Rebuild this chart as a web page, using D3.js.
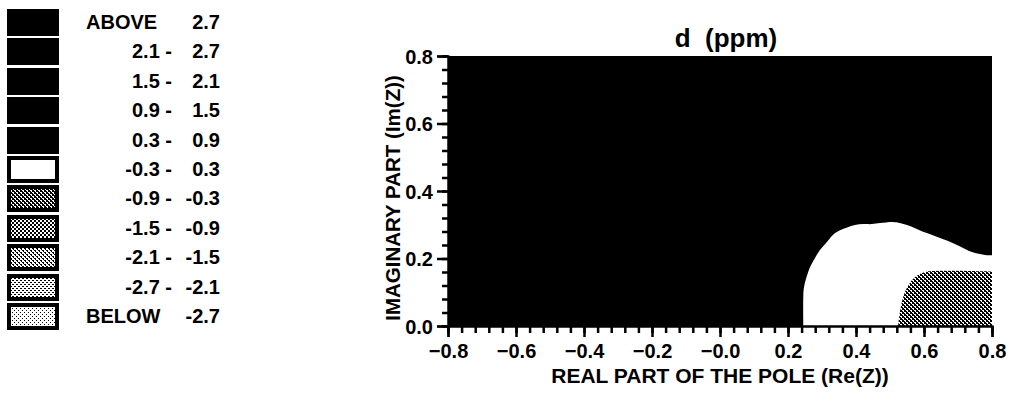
<!DOCTYPE html>
<html>
<head>
<meta charset="utf-8">
<script src="https://cdn.jsdelivr.net/npm/d3@7"></script>
<style>
  html, body { margin: 0; padding: 0; background: #fff; }
  svg { display: block; }
  text { font-family: "Liberation Sans", Arial, Helvetica, sans-serif; font-weight: bold; fill: #000; }
</style>
</head>
<body>
<svg id="chart" width="1009" height="393"></svg>
<script>
// ---- data -------------------------------------------------------------
const chartTitle = "d  (ppm)";
const xTitle = "REAL PART OF THE POLE (Re(Z))";
const yTitle = "IMAGINARY PART (Im(Z))";

// contour bands, from highest to lowest
const bandFrom = ["ABOVE", "2.1", "1.5", "0.9", "0.3", "-0.3", "-0.9", "-1.5", "-2.1", "-2.7", "BELOW"];
const bandTo   = ["2.7",   "2.7", "2.1", "1.5", "0.9", "0.3",  "-0.3", "-0.9", "-1.5", "-2.1", "-2.7"];

const xTicks = [-0.8, -0.6, -0.4, -0.2, 0.0, 0.2, 0.4, 0.6, 0.8];
const xTickLabels = ["-0.8", "-0.6", "-0.4", "-0.2", "-0.0", "0.2", "0.4", "0.6", "0.8"];
const yTicks = [0.0, 0.2, 0.4, 0.6, 0.8];
const yTickLabels = ["0.0", "0.2", "0.4", "0.6", "0.8"];

// background band covering the whole plane (0.3 - 0.9)
const backgroundBand = 4;

// outline of the -0.3 .. 0.3 region (Re, Im)
const zeroBand = 5;
const zeroBandRe = [0.245, 0.245, 0.247, 0.253, 0.265, 0.279, 0.294, 0.312, 0.332, 0.353, 0.374, 0.397, 0.421,
                    0.447, 0.471, 0.509, 0.529, 0.550, 0.574, 0.597, 0.624, 0.647, 0.671, 0.697, 0.721,
                    0.741, 0.765, 0.785, 0.800];
const zeroBandIm = [0.000, 0.090, 0.115, 0.140, 0.175, 0.201, 0.225, 0.246, 0.270, 0.284, 0.292, 0.299, 0.302,
                    0.302, 0.305, 0.308, 0.305, 0.299, 0.290, 0.279, 0.270, 0.261, 0.252, 0.240, 0.228,
                    0.219, 0.213, 0.210, 0.210];

// outline of the -0.9 .. -0.3 region (Re, Im)
const negBand = 6;
const negBandRe = [0.524, 0.529, 0.535, 0.544, 0.556, 0.571, 0.588, 0.608, 0.800];
const negBandIm = [0.000, 0.041, 0.071, 0.101, 0.124, 0.142, 0.154, 0.161, 0.161];

// ---- drawing ----------------------------------------------------------
const svg = d3.select("#chart");
const defs = svg.append("defs");

// halftone fills for the negative bands
function halftone(id, bg, fg, cells) {
  const p = defs.append("pattern")
    .attr("id", id).attr("patternUnits", "userSpaceOnUse")
    .attr("width", 4).attr("height", 4);
  p.append("rect").attr("width", 4).attr("height", 4).attr("fill", bg);
  cells.forEach(c => p.append("rect")
    .attr("x", c[0]).attr("y", c[1]).attr("width", c[2]).attr("height", c[3])
    .attr("fill", fg).attr("shape-rendering", "crispEdges"));
}
halftone("band6",  "#000", "#fff", [[0, 0, 2, 1], [2, 2, 2, 1], [1, 1, 1, 1], [3, 3, 1, 1]]);
halftone("band7",  "#000", "#fff", [[0, 0, 2, 2], [2, 2, 2, 2]]);
halftone("band8",  "#fff", "#000", [[0, 0, 2, 1], [2, 2, 2, 1], [1, 1, 1, 1], [3, 3, 1, 1]]);
halftone("band9",  "#fff", "#000", [[0, 0, 2, 1], [2, 2, 2, 1]]);
halftone("band10", "#fff", "#000", [[0, 0, 1, 1], [2, 2, 1, 1]]);

function bandFill(i) {
  if (i < 5) return "#000";
  if (i === 5) return "#fff";
  return `url(#band${i})`;
}

// legend
const legend = svg.append("g").attr("class", "legend");
const rowY = d3.scaleLinear().domain([0, bandFrom.length - 1]).range([9, 303]);
bandFrom.forEach((from, i) => {
  const top = Math.round(rowY(i));
  legend.append("rect").attr("x", 7).attr("y", top).attr("width", 52).attr("height", 27)
    .attr("fill", "#000").attr("shape-rendering", "crispEdges");
  legend.append("rect").attr("x", 11).attr("y", top + 4).attr("width", 44).attr("height", 19)
    .attr("fill", bandFill(i)).attr("shape-rendering", "crispEdges");
  const base = top + 20;
  if (from === "ABOVE" || from === "BELOW") {
    legend.append("text").attr("x", 86).attr("y", base).attr("font-size", 20).text(from);
  } else {
    legend.append("text").attr("x", 172).attr("y", base).attr("font-size", 20)
      .attr("text-anchor", "end").text(from + " -");
  }
  legend.append("text").attr("x", 220).attr("y", base).attr("font-size", 20)
    .attr("text-anchor", "end").text(bandTo[i]);
});

// plot area
const x = d3.scaleLinear().domain([-0.8, 0.8]).range([448, 992]);
const y = d3.scaleLinear().domain([0, 0.8]).range([326, 56]);

defs.append("clipPath").attr("id", "plotClip").append("rect")
  .attr("x", x(-0.8)).attr("y", y(0.8))
  .attr("width", x(0.8) - x(-0.8)).attr("height", y(0) - y(0.8));

const plot = svg.append("g").attr("clip-path", "url(#plotClip)");
plot.append("rect")
  .attr("x", x(-0.8)).attr("y", y(0.8))
  .attr("width", x(0.8) - x(-0.8)).attr("height", y(0) - y(0.8))
  .attr("fill", bandFill(backgroundBand));

// smooth boundary through the traced points, closed along the plot edges
const outline = d3.line().x(d => x(d[0])).y(d => y(d[1])).curve(d3.curveCatmullRom.alpha(0.5));
function region(re, im) {
  const n = re.length - 1;
  return outline(d3.zip(re, im)) +
    `L${x(0.8)},${y(im[n])}L${x(0.8)},${y(0)}L${x(re[0])},${y(0)}Z`;
}
plot.append("path").attr("d", region(zeroBandRe, zeroBandIm)).attr("fill", bandFill(zeroBand));
plot.append("path").attr("d", region(negBandRe, negBandIm)).attr("fill", bandFill(negBand));

// axes
const minus = s => s.replace("-", "\u2212");
const minorX = d3.range(0, 41).map(i => -0.8 + i * 0.04);
const minorY = d3.range(0, 21).map(i => i * 0.04);

const xAxisG = svg.append("g").attr("transform", `translate(0,${y(0)})`);
xAxisG.append("g").call(d3.axisBottom(x).tickValues(minorX).tickSize(7).tickFormat(""));
xAxisG.append("g").call(d3.axisBottom(x).tickValues(xTicks).tickSize(11)
  .tickFormat((d, i) => minus(xTickLabels[i])));
xAxisG.selectAll("text").attr("y", 32).attr("dy", 0).attr("font-size", 20)
  .attr("font-family", null);

const yAxisG = svg.append("g").attr("transform", `translate(${x(-0.8)},0)`);
yAxisG.append("g").call(d3.axisLeft(y).tickValues(minorY).tickSize(6).tickFormat(""));
yAxisG.append("g").call(d3.axisLeft(y).tickValues(yTicks).tickSize(11)
  .tickPadding(4).tickFormat((d, i) => yTickLabels[i]));
yAxisG.selectAll("text").attr("dy", "0.36em").attr("font-size", 20).attr("font-family", null);

svg.selectAll(".tick line").attr("stroke", "#000").attr("stroke-width", 2.5);
svg.selectAll(".domain").attr("stroke", "#000").attr("stroke-width", 2);

// titles
svg.append("text").attr("x", 726).attr("y", 47).attr("font-size", 26)
  .attr("text-anchor", "middle").style("white-space", "pre").text(chartTitle);
svg.append("text").attr("x", 720).attr("y", 383).attr("font-size", 21)
  .attr("text-anchor", "middle").text(xTitle);
svg.append("text").attr("transform", "translate(400,198) rotate(-90)")
  .attr("font-size", 20.5).attr("text-anchor", "middle").text(yTitle);
</script>
</body>
</html>
